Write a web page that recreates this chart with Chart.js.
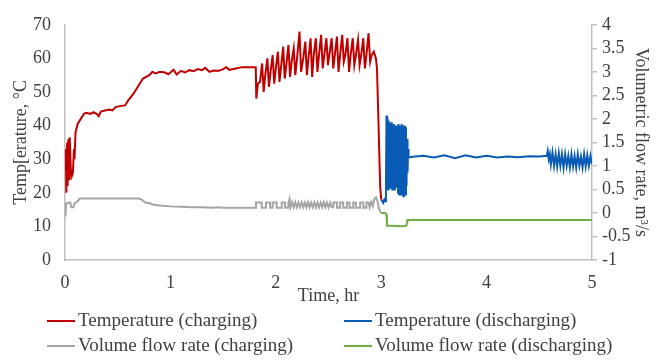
<!DOCTYPE html>
<html>
<head>
<meta charset="utf-8">
<script src="https://cdn.jsdelivr.net/npm/chart.js@4"></script>
<style>
    body { margin: 0; background: #fff; }
    #wrap { position: relative; width: 656px; height: 360px; font-family: "Liberation Serif", "Times New Roman", serif; color: #404040; }
    #chart { position: absolute; left: 0; top: 0; }
    .leg { position: absolute; font-size: 19px; line-height: 20px; white-space: nowrap; }
    .leg i { display: inline-block; width: 28px; height: 0; border-top: 2.5px solid; vertical-align: middle; margin-right: 3px; position: relative; top: -1px; }
</style>
</head>
<body>
<div id="wrap">
    <canvas id="chart" width="656" height="310"></canvas>
    <div class="leg" style="left:47px; top:310px;"><i style="border-color:#C00000"></i>Temperature (charging)</div>
    <div class="leg" style="left:344px; top:310px;"><i style="border-color:#0A5BB5"></i>Temperature (discharging)</div>
    <div class="leg" style="left:47px; top:335px;"><i style="border-color:#A5A5A5"></i>Volume flow rate (charging)</div>
    <div class="leg" style="left:344px; top:335px;"><i style="border-color:#70AD47"></i>Volume flow rate (discharging)</div>
</div>
<script>
// Temperature while charging (hr, degC)
const tempChargeTime = [0, 0.008, 0.013, 0.02, 0.025, 0.032, 0.038, 0.045, 0.055, 0.065, 0.075, 0.085, 0.09, 0.1, 0.12, 0.15, 0.18, 0.2, 0.24, 0.27, 0.3, 0.32, 0.34, 0.38, 0.42, 0.45, 0.48, 0.52, 0.57, 0.6, 0.65, 0.7, 0.74, 0.8, 0.83, 0.86, 0.9, 0.95, 0.98, 1.0, 1.03, 1.06, 1.1, 1.14, 1.18, 1.22, 1.26, 1.3, 1.33, 1.37, 1.41, 1.46, 1.5, 1.53, 1.56, 1.62, 1.68, 1.75, 1.81,
    1.815, 1.83, 1.85, 1.87, 1.885, 1.9, 1.92, 1.935, 1.95, 1.97, 1.985, 2.0, 2.02, 2.035, 2.05, 2.07, 2.085, 2.1, 2.12, 2.135, 2.15, 2.17, 2.185, 2.2, 2.225, 2.24, 2.26, 2.28, 2.295, 2.31, 2.33, 2.345, 2.36, 2.38, 2.395, 2.41, 2.43, 2.445, 2.46, 2.48, 2.495, 2.51, 2.53, 2.545, 2.56, 2.58, 2.595, 2.61, 2.63, 2.645, 2.66, 2.68, 2.695, 2.71, 2.73, 2.745, 2.76, 2.78, 2.795, 2.81, 2.83, 2.845, 2.86, 2.88, 2.895, 2.91, 2.93, 2.95, 2.96, 2.975, 2.99, 3.0];
const tempChargeVal = [27, 33, 20, 35, 22, 36, 24, 36.5, 27, 25, 26, 33, 30, 38, 40.5, 42, 43.5, 43.8, 43.5, 44, 43.5, 42.8, 44.2, 44.5, 44.8, 44.5, 45.5, 45.8, 46, 47.5, 49.5, 52, 54, 55, 56, 55.5, 56, 55.8, 55.3, 55.8, 56.6, 55.2, 56.3, 55.8, 56.5, 56.2, 56.8, 56.5, 57.2, 56, 56.4, 56.3, 56.8, 57.4, 56.6, 57, 57.4, 57.4, 57.4,
    48, 52.5, 53, 58.5, 50, 55, 60, 51.5, 56, 61, 52.5, 57, 62, 53, 57.5, 63.5, 54, 58, 64, 54.5, 59, 63, 55, 59.5, 68, 56, 60, 65, 55, 60, 66, 54.5, 61, 66, 56, 61, 67, 57, 61, 66, 58, 61.5, 66, 57, 61, 66.5, 56, 61, 67, 59, 61, 66, 56, 61, 66, 58, 61, 65.5, 58, 61, 66, 57, 61, 67.5, 59, 61, 62, 60, 57, 40, 22, 18];

// Temperature while discharging (hr, degC)
const tempDischargeTime = [3.0, 3.01, 3.02, 3.03, 3.04, 3.045,
    3.05, 3.055, 3.06, 3.065, 3.07, 3.075, 3.08, 3.085, 3.09, 3.095, 3.1, 3.105, 3.11, 3.115, 3.12, 3.125, 3.13, 3.135, 3.14, 3.145,
    3.155, 3.16, 3.165, 3.17, 3.175, 3.18, 3.185, 3.19, 3.195, 3.2, 3.205, 3.21, 3.215, 3.22, 3.225, 3.23, 3.235, 3.24, 3.245, 3.25, 3.255, 3.26,
    3.3, 3.4, 3.5, 3.6, 3.7, 3.8, 3.9, 4.0, 4.1, 4.2, 4.3, 4.4, 4.5, 4.57,
    4.58, 4.59, 4.6, 4.61, 4.625, 4.64, 4.655, 4.67, 4.685, 4.7, 4.715, 4.73, 4.745, 4.76, 4.775, 4.79, 4.805, 4.82, 4.835, 4.85, 4.865, 4.88, 4.895, 4.91, 4.925, 4.94, 4.955, 4.97, 4.985, 5.0];
const tempDischargeVal = [18, 17.5, 17, 18, 17.5, 20,
    43, 22, 42.5, 21, 41.5, 22, 41, 21.5, 40.5, 22, 41, 21, 40, 22, 40.5, 21, 39.5, 22.5, 40, 21.5,
    40, 20, 40.5, 19.5, 40, 20.5, 40, 19.5, 40.5, 20, 40, 19, 40, 20, 40, 19.5, 39.5, 22, 36, 26, 33, 30.5,
    30.7, 31, 30.5, 31.2, 30.3, 31.2, 30.5, 31, 30.5, 30.8, 30.6, 30.9, 30.8, 31,
    32.5, 30, 31.5, 28.5, 32, 28, 31.5, 27.8, 31.8, 28, 31.5, 27.5, 31.5, 28, 31, 27.5, 31.5, 27.8, 31, 27.5, 31.5, 28, 30.8, 27.5, 31.5, 27.8, 31.2, 28, 31, 28.5];

// Volume flow rate while charging (hr, m3/s)
const flowChargeTime = [0, 0.005, 0.01, 0.02, 0.03, 0.05, 0.06, 0.08, 0.09, 0.12, 0.14, 0.3, 0.5, 0.7, 0.73, 0.76, 0.8, 0.83, 0.9, 1.0, 1.1, 1.2, 1.3, 1.4, 1.45, 1.5, 1.6, 1.812,
    1.812, 1.866, 1.866, 1.907, 1.907, 1.945, 1.945, 1.97, 1.97, 2.008, 2.008, 2.056, 2.056, 2.087, 2.087, 2.119, 2.119, 2.13, 2.14,
    2.155, 2.17, 2.185, 2.2, 2.215, 2.23, 2.245, 2.26, 2.275, 2.29, 2.305, 2.32, 2.335, 2.35, 2.365, 2.38, 2.395, 2.41, 2.425, 2.44, 2.455, 2.47, 2.485, 2.5, 2.515, 2.53, 2.546,
    2.546, 2.58, 2.58, 2.61, 2.61, 2.64, 2.64, 2.675, 2.675, 2.7, 2.7, 2.735, 2.735, 2.76, 2.76, 2.8, 2.8, 2.83, 2.83, 2.86, 2.86, 2.88, 2.89, 2.905, 2.92, 2.935, 2.95, 2.965, 2.975, 2.99, 3.0];
const flowChargeVal = [0.0, -0.02, 0.2, 0.2, 0.22, 0.22, 0.12, 0.12, 0.2, 0.25, 0.31, 0.31, 0.31, 0.31, 0.28, 0.22, 0.21, 0.18, 0.16, 0.14, 0.13, 0.12, 0.12, 0.11, 0.12, 0.11, 0.11, 0.11,
    0.22, 0.22, 0.11, 0.11, 0.22, 0.22, 0.11, 0.11, 0.22, 0.22, 0.11, 0.11, 0.22, 0.22, 0.11, 0.11, 0.22, 0.3, 0.12,
    0.23, 0.12, 0.23, 0.12, 0.22, 0.12, 0.23, 0.12, 0.22, 0.12, 0.23, 0.12, 0.22, 0.12, 0.23, 0.12, 0.22, 0.12, 0.22, 0.12, 0.23, 0.12, 0.22, 0.12, 0.22, 0.12, 0.12,
    0.22, 0.22, 0.11, 0.11, 0.22, 0.22, 0.11, 0.11, 0.22, 0.22, 0.11, 0.11, 0.22, 0.22, 0.11, 0.11, 0.22, 0.22, 0.11, 0.11, 0.22, 0.22, 0.12, 0.24, 0.15, 0.3, 0.33, 0.25, 0.12, 0.03, 0.0];

// Volume flow rate while discharging (hr, m3/s)
const flowDischargeTime = [3.0, 3.04, 3.05, 3.055, 3.1, 3.2, 3.24, 3.245, 3.25, 4.0, 5.0];
const flowDischargeVal = [0.0, 0.0, -0.04, -0.27, -0.27, -0.28, -0.27, -0.18, -0.15, -0.15, -0.15];

const seriesNames = ['Temperature (charging)', 'Temperature (discharging)', 'Volume flow rate (charging)', 'Volume flow rate (discharging)'];
const seriesColors = ['#C00000', '#0A5BB5', '#A5A5A5', '#70AD47'];

const FONT = { family: '"Liberation Serif", "Times New Roman", serif', size: 18 };
const TEXT = '#404040';
const AXIS = '#BFBFBF';

function toPoints(xs, ys) {
    return xs.map((x, i) => ({ x: x, y: ys[i] }));
}

function makeSet(i, xs, ys, axis) {
    return {
        label: seriesNames[i],
        data: toPoints(xs, ys),
        borderColor: seriesColors[i],
        borderWidth: 2,
        pointRadius: 0,
        tension: 0,
        yAxisID: axis
    };
}

new Chart(document.getElementById('chart'), {
    type: 'line',
    data: {
        datasets: [
            makeSet(2, flowChargeTime, flowChargeVal, 'y2'),
            makeSet(3, flowDischargeTime, flowDischargeVal, 'y2'),
            makeSet(0, tempChargeTime, tempChargeVal, 'y'),
            makeSet(1, tempDischargeTime, tempDischargeVal, 'y')
        ]
    },
    options: {
        responsive: false,
        animation: false,
        devicePixelRatio: 1,
        layout: { padding: { top: 15, left: 0, right: 0, bottom: 0 } },
        plugins: {
            legend: { display: false },
            tooltip: { enabled: false }
        },
        scales: {
            x: {
                type: 'linear',
                min: 0,
                max: 5,
                ticks: { stepSize: 1, color: TEXT, font: FONT, padding: 12, maxRotation: 0 },
                grid: { display: false, drawTicks: false },
                border: { display: true, color: AXIS, width: 1.5 },
                title: { display: true, text: 'Time, hr', color: TEXT, font: FONT, padding: { top: 0, bottom: 3 } },
                afterFit: s => { s.height = 50; }
            },
            y: {
                position: 'left',
                min: 0,
                max: 70,
                ticks: { stepSize: 10, color: TEXT, font: FONT, padding: 14 },
                grid: { display: false, drawTicks: false },
                border: { display: true, color: AXIS, width: 1.5 },
                title: { display: true, text: 'Temp[erature, °C', color: TEXT, font: FONT, padding: { top: 10, bottom: 0 } },
                afterFit: s => { s.width = 65; }
            },
            y2: {
                position: 'right',
                min: -1,
                max: 4,
                ticks: { stepSize: 0.5, autoSkip: false, color: TEXT, font: FONT, padding: 5, callback: v => String(v) },
                grid: { display: true, drawOnChartArea: false, drawTicks: true, tickLength: 5, color: AXIS, lineWidth: 1.5 },
                border: { display: true, color: AXIS, width: 1.5 },
                title: { display: true, text: 'Volumetric flow rate, m³/s', color: TEXT, font: FONT, padding: { top: 4, bottom: 0 } },
                afterFit: s => { s.width = 64; }
            }
        }
    }
});
</script>
</body>
</html>
